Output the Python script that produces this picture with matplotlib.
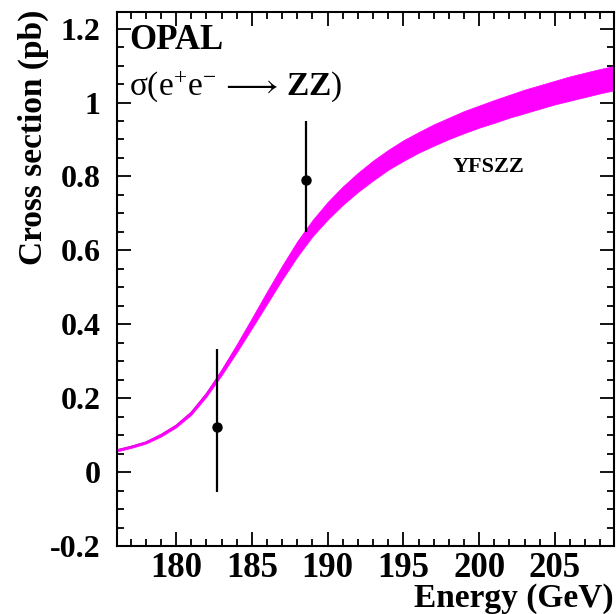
import matplotlib
matplotlib.use('Agg')
import matplotlib.pyplot as plt
from matplotlib.ticker import MultipleLocator
import numpy as np

plt.rcParams['font.family'] = ['Liberation Serif', 'DejaVu Serif']
plt.rcParams['mathtext.fontset'] = 'custom'
plt.rcParams['mathtext.rm'] = 'Liberation Serif'
plt.rcParams['mathtext.it'] = 'Liberation Serif:italic'
plt.rcParams['mathtext.bf'] = 'Liberation Serif:bold'

# %% data
# YFSZZ prediction: centre of band and half width (pb)
energy = [176.1, 177, 178, 179, 180, 181, 182, 183, 184, 185, 186, 187, 188, 189,
          190, 191, 192, 193, 194, 195, 196, 197, 198, 199, 200, 201, 202, 203,
          204, 205, 206, 207, 208, 208.9]
xsec = [0.059, 0.068, 0.080, 0.100, 0.125, 0.160, 0.210, 0.270, 0.335, 0.403, 0.472,
        0.540, 0.604, 0.660, 0.707, 0.748, 0.784, 0.816, 0.845, 0.870, 0.892, 0.912,
        0.930, 0.947, 0.962, 0.976, 0.990, 1.003, 1.015, 1.027, 1.038, 1.048, 1.058, 1.066]
halfwidth = [0.003, 0.003, 0.003, 0.004, 0.004, 0.005, 0.006, 0.008, 0.011, 0.014, 0.017,
             0.019, 0.021, 0.022, 0.024, 0.025, 0.026, 0.027, 0.027, 0.028, 0.028, 0.029,
             0.029, 0.030, 0.030, 0.031, 0.031, 0.032, 0.032, 0.032, 0.033, 0.033, 0.033, 0.033]

# OPAL measurements
data_E = [182.7, 188.6]
data_xs = [0.123, 0.791]
data_err_lo = [0.177, 0.141]
data_err_hi = [0.209, 0.158]

# %% plot
fig = plt.figure(figsize=(6.16, 6.14), dpi=100)
ax = fig.add_axes([117 / 616, 1 - 546 / 614, 497 / 616, 534 / 614])

E = np.array(energy)
xs = np.array(xsec)
hw = np.array(halfwidth)
ax.plot(E, xs, color='#a03ca0', lw=1.6, zorder=1)
ax.fill_between(E, xs - hw, xs + hw, facecolor='#ff00ff', edgecolor='#ff00ff', lw=0.5, zorder=2)

ax.errorbar(data_E, data_xs, yerr=[data_err_lo, data_err_hi], fmt='o', color='black',
            ms=6.5, elinewidth=1.6, capsize=0, zorder=3)

ax.set_xlim(176.1, 208.9)
ax.set_ylim(-0.2, 1.245)
ax.xaxis.set_major_locator(MultipleLocator(5))
ax.xaxis.set_minor_locator(MultipleLocator(1))
ax.yaxis.set_minor_locator(MultipleLocator(0.05))
ax.set_yticks([-0.2, 0, 0.2, 0.4, 0.6, 0.8, 1, 1.2])
ax.set_yticklabels(['-0.2', '0', '0.2', '0.4', '0.6', '0.8', '1', '1.2'])
ax.tick_params(which='both', direction='in', top=True, right=True, width=1.3)
ax.tick_params(which='major', length=10)
ax.tick_params(which='minor', length=5)
ax.tick_params(axis='x', labelsize=25, pad=4)
ax.tick_params(axis='y', labelsize=23, pad=12)
for lab in ax.get_xticklabels() + ax.get_yticklabels():
    lab.set_fontweight('bold')
for s in ax.spines.values():
    s.set_linewidth(1.5)

ax.text(0.025, 0.978, 'OPAL', transform=ax.transAxes, fontsize=25, fontweight='bold',
        va='top', ha='left')
ax.text(0.025, 0.895, r'σ(e$^{+}$e$^{-}\,\longrightarrow\,\mathbf{ZZ}$)', transform=ax.transAxes,
        fontsize=24, va='top', ha='left')
ax.text(200.6, 0.826, 'YFSZZ', fontsize=16, fontweight='bold', ha='center', va='center')

fig.text(33 / 616, 1 - 10 / 614, 'Cross section (pb)', rotation=90, fontsize=24,
         fontweight='bold', ha='center', va='top')
fig.text(614 / 616, 1 - 598 / 614, 'Energy (GeV)', fontsize=24, fontweight='bold',
         ha='right', va='center')

fig.savefig('out.png', dpi=100)
